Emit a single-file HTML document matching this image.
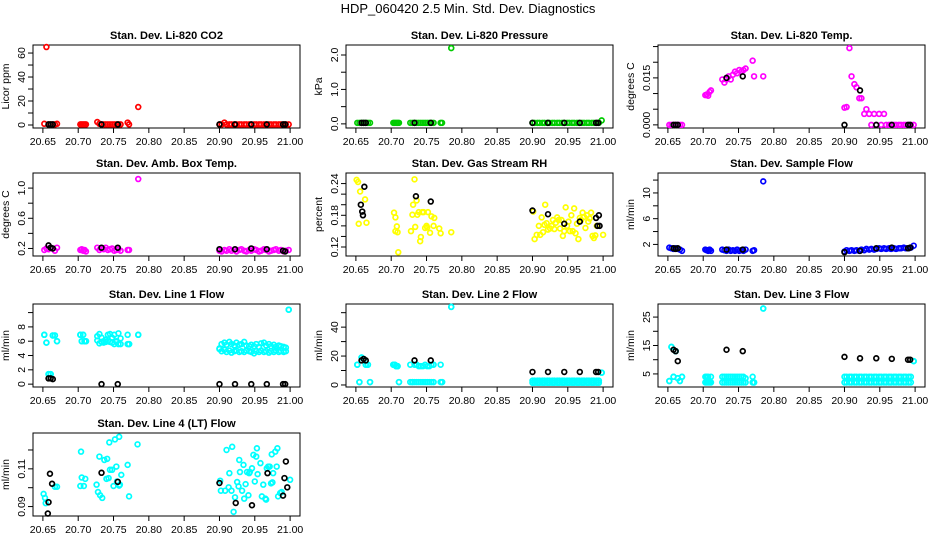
<!DOCTYPE html>
<html><head><meta charset="utf-8"><style>
html,body{margin:0;padding:0;background:#fff;}
svg{display:block;font-family:"Liberation Sans",sans-serif;}
</style></head><body>
<svg id="chart" width="936" height="540" viewBox="0 0 936 540">
<text x="468" y="13" text-anchor="middle" font-size="13">HDP_060420  2.5 Min. Std. Dev. Diagnostics</text>
</svg>
<script>
// shared sample times (day of year): 7 + 5 + 15 + 29 = 56
const times = [20.652,20.655,20.658,20.661,20.664,20.667,20.670,
 20.703,20.705,20.707,20.709,20.711,
 20.727,20.730,20.733,20.736,20.739,20.742,20.745,20.748,20.751,20.754,20.757,20.760,20.770,20.772,20.785,
 20.900,20.903,20.907,20.910,20.914,20.917,20.921,20.924,20.928,20.931,
 20.935,20.938,20.942,20.945,20.949,20.952,20.956,20.959,20.963,20.966,
 20.970,20.973,20.977,20.980,20.984,20.987,20.991,20.994,20.998];
const xTicks = [20.65,20.70,20.75,20.80,20.85,20.90,20.95,21.00];
const xTickLabels = ["20.65","20.70","20.75","20.80","20.85","20.90","20.95","21.00"];
const blackTimes = [20.658,20.661,20.664,20.733,20.756,20.900,20.922,20.945,20.967,20.990,20.993];

const co2Y = [1,65,0.5,0.5,0.5,0.5,1,
 0.5,0.5,0.5,0.5,0.5,
 2.5,1,0.5,0.5,0.5,0.5,0.5,0.5,0.5,0.5,0.5,0.5,2,0.5,15,
 0.5,0.5,2,0.5,0.5,0.5,0.5,0.5,0.5,0.5,
 0.5,0.5,0.5,0.5,0.5,0.5,0.5,0.5,0.5,0.5,
 0.5,0.5,0.5,0.5,0.5,0.5,0.5,0.5,0.5];
const co2Black = [0.5,0.5,0.5,0.5,0.5,0.5,0.5,0.5,0.5,0.5,0.5];

const presY = [0.03,0.03,0.03,0.03,0.03,0.03,0.03,
 0.03,0.03,0.03,0.03,0.03,
 0.03,0.03,0.03,0.03,0.03,0.03,0.03,0.03,0.03,0.03,0.03,0.03,0.03,0.03,2.2,
 0.03,0.03,0.03,0.03,0.03,0.03,0.03,0.03,0.03,0.03,
 0.03,0.03,0.03,0.03,0.03,0.03,0.03,0.03,0.03,0.03,
 0.03,0.03,0.03,0.03,0.03,0.03,0.03,0.03,0.1];
const presBlack = [0.03,0.03,0.03,0.03,0.03,0.03,0.03,0.03,0.03,0.03,0.03];

const tempY = [0,0,0,0,0,0,0,
 0.0095,0.0097,0.0093,0.0105,0.011,
 0.0145,0.0135,0.0145,0.0155,0.0145,0.016,0.017,0.0165,0.0175,0.017,0.0175,0.018,0.0205,0.0155,0.0155,
 0.0055,0.0057,0.0245,0.0155,0.013,0.012,0.0085,0.0085,0.0035,0.005,
 0.0035,0,0.0035,0,0.0035,0,0.0035,0,0,0,
 0,0,0,0,0,0,0,0,0];
const tempBlack = [0,0,0,0.015,0.0155,0,0.011,0,0,0,0];

const ambY = [0.18,0.2,0.19,0.21,0.2,0.17,0.21,
 0.18,0.19,0.17,0.18,0.16,
 0.21,0.18,0.2,0.19,0.21,0.18,0.19,0.2,0.17,0.18,0.19,0.17,0.18,0.18,1.12,
 0.17,0.16,0.18,0.17,0.19,0.17,0.18,0.16,0.18,0.19,
 0.17,0.16,0.18,0.17,0.19,0.18,0.16,0.17,0.19,0.18,
 0.16,0.17,0.18,0.19,0.17,0.18,0.16,0.17,0.18];
const ambBlack = [0.24,0.21,0.2,0.21,0.21,0.19,0.19,0.2,0.19,0.17,0.16];

const flowY = [1.5,1.4,1.3,1.4,1.3,1.2,1.0,
 1.2,1.1,1.0,1.2,1.0,
 1.2,1.1,1.0,1.2,1.0,1.1,1.0,1.2,1.0,1.1,1.0,1.2,1.0,1.1,11.8,
 0.9,1.1,1.0,1.1,1.0,1.1,1.0,1.2,1.1,1.3,
 1.2,1.3,1.2,1.3,1.4,1.3,1.4,1.3,1.4,1.3,
 1.4,1.3,1.4,1.4,1.5,1.4,1.4,1.5,1.8];
const flowBlack = [1.4,1.3,1.4,1.2,1.2,0.8,1.0,1.4,1.5,1.4,1.5];

const line1Y = [6.9,5.8,1.4,1.4,6.8,6.8,6.0,
 6.9,6.0,6.9,6.0,6.0,
 6.7,7.0,6.5,6.0,6.2,6.9,7.0,6.5,6.9,6.0,7.1,6.4,6.9,5.6,6.9,
 5.0,5.6,5.8,5.5,5.9,5.6,5.4,5.8,5.5,5.6,
 5.9,5.4,5.3,5.5,5.3,5.6,5.2,5.7,5.8,5.4,
 5.6,5.3,5.5,5.2,5.4,5.3,5.2,5.1,10.4];
const line1Y2 = [6.9,5.8,1.4,1.4,6.8,6.8,6.0,
 6.9,6.0,6.9,6.0,6.0,
 6.1,5.7,5.9,5.8,5.9,6.0,5.9,5.8,5.6,5.9,5.6,5.6,5.6,5.6,6.9,
 4.9,4.6,4.8,4.5,4.7,4.4,4.6,4.7,4.5,4.6,
 4.5,4.7,4.6,4.5,4.3,4.6,4.5,4.7,4.5,4.6,
 4.4,4.6,4.5,4.7,4.5,4.6,4.5,4.6,10.4];
const line1Black = [0.8,0.8,0.7,0,0,0,0,0,0,0,0];

const line2Y = [14,2,19,18,14,14,2,
 14,14,13,13,2,
 14,2,14,14,13,13,13,14,13,13,14,14,14,2,54,
 3,3,3,3,3,3,3,3,3,3,
 3,3,3,3,3,3,3,3,3,3,
 3,3,3,3,3,3,3,3,8.5];
const line2Y2 = [14,2,19,18,14,14,2,
 14,14,13,13,2,
 2,2,2,2,2,2,2,2,2,2,2,2,2,2,54,
 1.5,1.5,1.5,1.5,1.5,1.5,1.5,1.5,1.5,1.5,
 1.5,1.5,1.5,1.5,1.5,1.5,1.5,1.5,1.5,1.5,
 1.5,1.5,1.5,1.5,1.5,1.5,1.5,1.5,8.5];
const line2Black = [17,18,17,17,17,9,9,9,9,9,9];

const line3Y = [2.5,14.5,4,13,3.5,2.5,4,
 4,4,4,2.5,4,
 4,4,4,4,4,4,4,4,4,4,4,3.5,4,2,28,
 4,4,4,4,4,4,4,4,4,4,
 4,4,4,4,4,4,4,4,4,4,
 4,4,4,4,4,4,4,4,9.5];
const line3Y2 = [2.5,14.5,4,13,3.5,2.5,4,
 2,2,2,2,2,
 2,2,2,2,2,2,2,2,2,2,2,2,2,2,28,
 2,2,2,2,2,2,2,2,2,2,
 2,2,2,2,2,2,2,2,2,2,
 2,2,2,2,2,2,2,2,9.5];
const line3Black = [13.5,13,9.5,13.5,13,11,10.5,10.5,10.3,10,10];

const rhX = [20.651,20.653,20.654,20.656,20.663,20.665, 20.704,20.706,20.706,20.708,20.709,20.710,
 20.728,20.730,20.731,20.733,20.734,20.736,20.737,20.739,20.741,20.742,20.744,20.746,20.748,20.750,20.751,20.752,20.755,20.757,20.760,20.761,20.768,20.770,20.785,
 20.901,20.903,20.906,20.909,20.911,20.913,20.915,20.917,20.918,20.920,20.922,20.925,20.927,20.929,20.931,20.933,20.935,20.937,20.939,20.941,20.943,20.945,20.947,20.949,20.951,20.953,20.955,20.957,20.959,20.961,20.963,20.965,20.967,20.969,20.971,20.973,20.975,20.977,20.979,20.981,20.983,20.985,20.987,20.989,20.991,21.000];
const rhY = [0.247,0.243,0.164,0.225,0.210,0.166, 0.185,0.176,0.150,0.159,0.148,0.110,
 0.150,0.181,0.200,0.248,0.158,0.208,0.181,0.186,0.131,0.139,0.186,0.186,0.156,0.160,0.157,0.186,0.147,0.178,0.160,0.175,0.155,0.146,0.148,
 0.187,0.135,0.143,0.160,0.143,0.176,0.148,0.162,0.200,0.165,0.153,0.155,0.160,0.171,0.154,0.166,0.176,0.171,0.155,0.171,0.141,0.150,0.195,0.160,0.168,0.150,0.180,0.150,0.193,0.146,0.164,0.135,0.175,0.171,0.185,0.177,0.156,0.180,0.168,0.174,0.185,0.141,0.137,0.142,0.160,0.143];
const rhBlackX = [20.657,20.659,20.660,20.662,20.735,20.756,20.900,20.922,20.945,20.967,20.990,20.992,20.994,20.995];
const rhBlackY = [0.200,0.187,0.180,0.234,0.216,0.206,0.189,0.182,0.164,0.168,0.175,0.160,0.180,0.160];

const lt4X = [20.651,20.653,20.654,20.667,20.670,20.704,20.703,20.708,20.705,20.710,20.726,20.728,20.731,20.734,20.730,20.737,20.741,20.745,20.748,20.740,20.743,20.744,20.752,20.758,20.754,20.750,20.755,20.758,20.761,20.770,20.772,20.759,20.784,
 20.901,20.902,20.908,20.910,20.914,20.913,20.917,20.918,20.920,20.922,20.925,20.927,20.928,20.929,20.932,20.934,20.935,20.937,20.939,20.941,20.942,20.943,20.946,20.948,20.950,20.952,20.953,20.954,20.958,20.960,20.962,20.965,20.966,20.967,20.969,20.971,20.973,20.974,20.975,20.976,20.979,20.981,20.982,20.983,20.986,20.988,21.000];
const lt4Y = [0.0967,0.0946,0.0918,0.1005,0.1005,0.1191,0.1009,0.1009,0.1054,0.1047,0.1016,0.0977,0.0960,0.0946,0.1165,0.1147,0.1153,0.1095,0.1095,0.1047,0.1051,0.1240,0.1256,0.1270,0.1112,0.1009,0.1033,0.1011,0.1068,0.1121,0.0954,0.1016,0.1230,
 0.1037,0.0984,0.0984,0.1200,0.1077,0.1002,0.0984,0.1217,0.0872,0.0949,0.1030,0.1007,0.1147,0.1083,0.0984,0.1121,0.0942,0.1019,0.1083,0.0960,0.1077,0.1083,0.1103,0.1174,0.1033,0.1165,0.1209,0.1072,0.1130,0.0954,0.1016,0.0942,0.0937,0.1103,0.1112,0.1112,0.1023,0.1177,0.1028,0.1077,0.1191,0.1112,0.1209,0.0954,0.0972,0.0977,0.1042];
const lt4BlackX = [20.658,20.660,20.663,20.657,20.733,20.756,20.900,20.923,20.946,20.968,20.992,20.994,20.996,20.990];
const lt4BlackY = [0.0923,0.1074,0.1021,0.0863,0.1079,0.1031,0.1025,0.0919,0.0907,0.1077,0.1051,0.1139,0.1002,0.0958];

const svg = document.getElementById('chart');
const NS = 'http://www.w3.org/2000/svg';
const colLeft = [33, 346, 658];
const rowTop = [45, 173, 304, 433];
const BW = 267, BH = 83;
const XMIN = 20.636, XMAX = 21.014;

function mk(tag, attrs, parent) {
  const e = document.createElementNS(NS, tag);
  for (const k in attrs) e.setAttribute(k, attrs[k]);
  (parent || svg).appendChild(e);
  return e;
}

function panel(id, col, row, title, ylab, ymin, ymax, yTicks, yLabels, color, series, blacks) {
  const L = colLeft[col], T = rowTop[row];
  const g = mk('g', {});
  
  
  const sx = v => L + (v - XMIN) / (XMAX - XMIN) * BW;
  const sy = v => T + BH - (v - ymin) / (ymax - ymin) * BH;
  const box = mk('rect', {x: L, y: T, width: BW, height: BH, fill: 'none', stroke: '#000', 'stroke-width': 1}, g);
  
  
  const tt = mk('text', {x: L + BW / 2, y: T - 6, 'text-anchor': 'middle', 'font-size': 11, 'font-weight': 'bold'}, g);
  tt.textContent = title;
  
  
  const xl = mk('g', {}, g);
  
  
  xTicks.forEach((t, i) => {
    const x = sx(t);
    mk('line', {x1: x, x2: x, y1: T + BH, y2: T + BH + 5, stroke: '#000'}, xl);
    const lb = mk('text', {x: x, y: T + BH + 17, 'text-anchor': 'middle', 'font-size': 10.5}, xl);
    lb.textContent = xTickLabels[i];
  });
  const yl = mk('g', {}, g);
  
  
  yTicks.forEach((t, i) => {
    const y = sy(t);
    mk('line', {x1: L, x2: L - 5, y1: y, y2: y, stroke: '#000'}, yl);
    if (yLabels[i]) {
      const lb = mk('text', {x: L - 8, y: y, 'text-anchor': 'middle', 'font-size': 10.5, transform: `rotate(-90 ${L - 8} ${y})`}, yl);
      lb.textContent = yLabels[i];
    }
  });
  const yt = mk('text', {x: L - 24, y: T + BH / 2, 'text-anchor': 'middle', 'font-size': 10.5, transform: `rotate(-90 ${L - 24} ${T + BH / 2})`}, g);
  yt.textContent = ylab;
  
  
  series.forEach(s => {
    s[0].forEach((xv, i) => {
      const yv = s[1][i];
      if (!Number.isFinite(yv)) return;
      const c = mk('circle', {cx: sx(xv), cy: sy(yv), r: 2.4, fill: 'none', stroke: color, 'stroke-width': 1.7}, g);
      
      
    });
  });
  blacks[0].forEach((xv, i) => {
    const yv = blacks[1][i];
    if (!Number.isFinite(yv)) return;
    const c = mk('circle', {cx: sx(xv), cy: sy(yv), r: 2.4, fill: 'none', stroke: '#000', 'stroke-width': 1.7}, g);
    
    
  });
}

panel('co2', 0, 0, 'Stan. Dev. Li-820 CO2', 'Licor ppm', -2.5, 66.7, [0,10,20,30,40,50,60], ['0','','20','','40','','60'], '#ff0000', [[times, co2Y]], [blackTimes, co2Black]);
panel('pressure', 1, 0, 'Stan. Dev. Li-820 Pressure', 'kPa', -0.12, 2.29, [0,0.5,1,1.5,2], ['0.0','','1.0','','2.0'], '#00cc00', [[times, presY]], [blackTimes, presBlack]);
panel('licor-temp', 2, 0, 'Stan. Dev. Li-820 Temp.', 'degrees C', -0.001, 0.0255, [0,0.005,0.01,0.015,0.02,0.025], ['0.000','','','0.015','',''], '#ff00ff', [[times, tempY]], [blackTimes, tempBlack]);
panel('amb-temp', 0, 1, 'Stan. Dev. Amb. Box Temp.', 'degrees C', 0.1, 1.2, [0.2,0.4,0.6,0.8,1.0], ['0.2','','0.6','','1.0'], '#ff00ff', [[times, ambY]], [blackTimes, ambBlack]);
panel('rh', 1, 1, 'Stan. Dev. Gas Stream RH', 'percent', 0.103, 0.26, [0.12,0.14,0.16,0.18,0.2,0.22,0.24], ['0.12','','','0.18','','','0.24'], '#ffff00', [[rhX, rhY]], [rhBlackX, rhBlackY]);
panel('sample-flow', 2, 1, 'Stan. Dev. Sample Flow', 'ml/min', 0.2, 13.1, [2,4,6,8,10,12], ['2','','6','','10',''], '#0000ff', [[times, flowY]], [blackTimes, flowBlack]);
panel('line1', 0, 2, 'Stan. Dev. Line 1 Flow', 'ml/min', -0.4, 11.2, [0,2,4,6,8,10], ['0','2','4','6','8',''], '#00ffff', [[times, line1Y], [times, line1Y2]], [blackTimes, line1Black]);
panel('line2', 1, 2, 'Stan. Dev. Line 2 Flow', 'ml/min', -1.4, 56, [0,10,20,30,40,50], ['0','','20','','40',''], '#00ffff', [[times, line2Y], [times, line2Y2]], [blackTimes, line2Black]);
panel('line3', 2, 2, 'Stan. Dev. Line 3 Flow', 'ml/min', 0.4, 29.6, [5,10,15,20,25], ['5','','15','','25'], '#00ffff', [[times, line3Y], [times, line3Y2]], [blackTimes, line3Black]);
panel('line4', 0, 3, 'Stan. Dev. Line 4 (LT) Flow', 'ml/min', 0.085, 0.129, [0.09,0.1,0.11,0.12], ['0.09','','0.11',''], '#00ffff', [[lt4X, lt4Y]], [lt4BlackX, lt4BlackY]);
</script>
</body></html>
